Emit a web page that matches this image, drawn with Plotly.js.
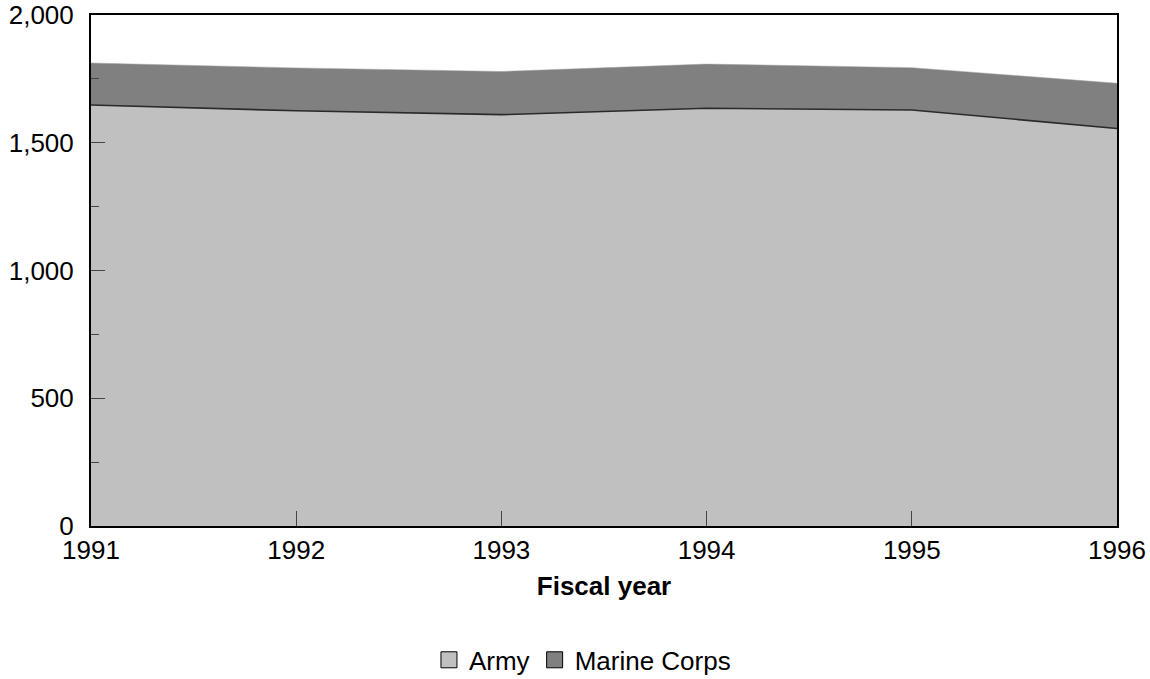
<!DOCTYPE html>
<html>
<head>
<meta charset="utf-8">
<script src="https://cdn.plot.ly/plotly-3.0.1.min.js"></script>
<style>html,body{margin:0;padding:0;background:#fff}#chart{width:1150px;height:679px}</style>
</head>
<body>
<div id="chart"></div>
<script>
const years = [1991, 1992, 1993, 1994, 1995, 1996];
const army = [1648, 1625, 1610, 1635, 1628, 1556];
const marineCorps = [164, 168, 169, 173, 166, 177];
const seriesNames = ['Army', 'Marine Corps'];
const yTickVals = [0, 500, 1000, 1500, 2000];
const yTickText = ['0', '500', '1,000', '1,500', '2,000'];

const traces = [
  {x: years, y: army, name: seriesNames[0], type: 'scatter', mode: 'lines', stackgroup: 'one',
   fillcolor: '#c0c0c0', line: {color: '#2a2a2a', width: 1.6}, showlegend: false, hoverinfo: 'x+y'},
  {x: years, y: marineCorps, name: seriesNames[1], type: 'scatter', mode: 'lines', stackgroup: 'one',
   fillcolor: '#808080', line: {color: '#a0a0a0', width: 0.5}, showlegend: false, hoverinfo: 'x+y'},
  {x: [null], y: [null], name: seriesNames[0], type: 'scatter', mode: 'markers',
   marker: {symbol: 'square', size: 19, color: '#c0c0c0', line: {color: '#000', width: 1}}},
  {x: [null], y: [null], name: seriesNames[1], type: 'scatter', mode: 'markers',
   marker: {symbol: 'square', size: 19, color: '#808080', line: {color: '#000', width: 1}}}
];

const layout = {
  width: 1150, height: 679,
  margin: {l: 91, r: 33, t: 15, b: 153, autoexpand: false},
  paper_bgcolor: '#fff', plot_bgcolor: '#fff',
  font: {family: 'Liberation Sans, Arial, sans-serif', size: 26, color: '#000'},
  showlegend: true,
  legend: {orientation: 'h', x: 0.479, xanchor: 'center', y: -0.262, yanchor: 'middle',
           traceorder: 'normal', font: {size: 26}, itemwidth: 30, tracegroupgap: 0},
  xaxis: {
    range: [1991, 1996], tickvals: years, ticktext: years.map(String),
    ticks: 'inside', ticklen: 15, tickwidth: 1, tickcolor: '#444',
    showline: true, linecolor: '#000', linewidth: 2, mirror: true,
    showgrid: false, zeroline: false, automargin: false,
    title: {text: '<b>Fiscal year</b>', font: {size: 26}, standoff: 13}
  },
  yaxis: {
    range: [0, 2000], tickvals: yTickVals, ticktext: yTickText,
    ticks: 'inside', ticklen: 14, tickwidth: 1, tickcolor: '#444',
    minor: {dtick: 250, ticks: 'inside', ticklen: 8, tickcolor: '#444', tickwidth: 1},
    showline: true, linecolor: '#000', linewidth: 2, mirror: true,
    showgrid: false, zeroline: false, automargin: false, ticklabelstandoff: 10
  }
};

Plotly.newPlot('chart', traces, layout, {displayModeBar: false, staticPlot: true});
</script>
</body>
</html>
